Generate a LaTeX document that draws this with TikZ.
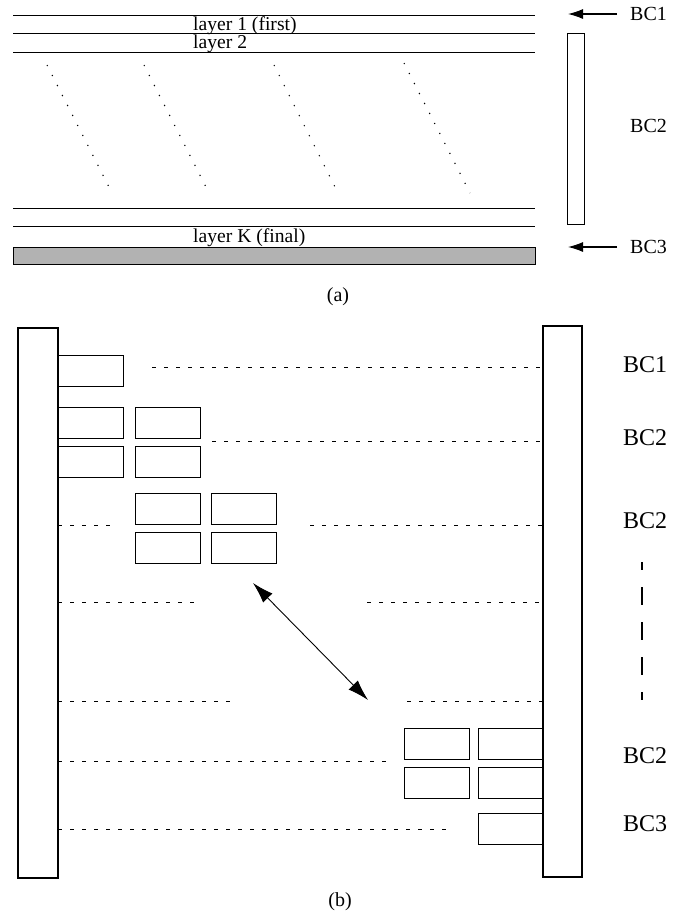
\documentclass[tikz,border=0pt]{standalone}
\usepackage{fontspec}
\setmainfont{Liberation Serif}
\usetikzlibrary{arrows.meta}
\begin{document}
\begin{tikzpicture}[x=1pt,y=-1pt,
  lay/.style={line width=1pt},
  slant/.style={line width=1.1pt, dash pattern=on 1.2pt off 10pt},
  dots/.style={line width=1pt, dash pattern=on 3.5pt off 8.5pt},
  sbox/.style={draw, line width=1pt, minimum width=65pt, minimum height=31pt, inner sep=0pt, anchor=north west},
  bar/.style={draw, line width=1.1pt},
  ltxt/.style={font=\fontsize{19.6}{20}\selectfont, anchor=west, inner sep=0pt},
  bca/.style={font=\fontsize{20}{20}\selectfont, anchor=west, inner sep=0pt},
  bcb/.style={font=\fontsize{24}{24}\selectfont, anchor=west, inner sep=0pt},
  captxt/.style={font=\fontsize{20}{20}\selectfont, inner sep=0pt},
  arrA/.style={line width=1.1pt, -{Latex[length=15pt,width=10pt]}},
  arrB/.style={line width=0.9pt, {Latex[length=21pt,width=13pt]}-{Latex[length=21pt,width=13pt]}}
]
\useasboundingbox (0,0) rectangle (673,914);

% ---------- (a) ----------
\draw[lay] (13,15) -- (535,15);
\draw[lay] (13,33) -- (535,33);
\draw[lay] (13,52) -- (535,52);
\draw[lay] (13,208) -- (535,208);
\draw[lay] (13,226) -- (535,226);
\node[ltxt] (l1) at (193,25.5) {layer 1 (first)};
\node[ltxt] (l2) at (193,44) {layer 2};
\node[ltxt] (lk) at (193,238) {layer K (final)};
\draw[lay, fill=black!30] (13,247) rectangle (535,264);

\draw[slant] (47,65) -- (112,193);
\draw[slant] (144,65) -- (209,193);
\draw[slant] (274,65) -- (338,193);
\draw[slant] (404,63) -- (470,193);

\draw[lay] (567,33) rectangle (584,224);

\node[bca] (abc1) at (630,14) {BC1};
\node[bca] (abc2) at (630,126) {BC2};
\node[bca] (abc3) at (630,247) {BC3};
\draw[arrA] ([xshift=-13pt]abc1.west) -- ([xshift=-62pt]abc1.west);
\draw[arrA] ([xshift=-13pt]abc3.west) -- ([xshift=-62pt]abc3.west);

\node[captxt] (capa) at (338,297) {(a)};

% ---------- (b) ----------
\draw[bar] (18,328) rectangle (58,878);
\draw[bar] (543,326) rectangle (582,877);

\node[sbox] (b1) at (58,355) {};
\node[sbox] (b2a) at (58,407) {};
\node[sbox] (b2b) at (135,407) {};
\node[sbox] (b2c) at (58,446) {};
\node[sbox] (b2d) at (135,446) {};
\node[sbox] (b3a) at (135,493) {};
\node[sbox] (b3b) at (211,493) {};
\node[sbox] (b3c) at (135,532) {};
\node[sbox] (b3d) at (211,532) {};
\node[sbox] (b4a) at (404,728) {};
\node[sbox] (b4b) at (478,728) {};
\node[sbox] (b4c) at (404,767) {};
\node[sbox] (b4d) at (478,767) {};
\node[sbox] (b5) at (478,813) {};

\draw[dots] (152,367) -- (543,367);
\draw[dots] (212,441) -- (543,441);
\draw[dots] (58,525) -- (117,525);
\draw[dots] (310,525) -- (543,525);
\draw[dots] (58,602) -- (195,602);
\draw[dots] (367,602) -- (543,602);
\draw[dots] (58,701) -- (233,701);
\draw[dots] (407,701) -- (543,701);
\draw[dots] (58,761) -- (390,761);
\draw[dots] (58,829) -- (448,829);

\coordinate (u) at (253,583);
\coordinate (v) at (368,700);
\draw[arrB] (u) -- (v);

\node[bcb] (bbc1) at (623,365) {BC1};
\node[bcb] (bbc2) at (623,438) {BC2};
\node[bcb] (bbc3) at (623,521) {BC2};
\node[bcb] (bbc4) at (623,756) {BC2};
\node[bcb] (bbc5) at (623,824) {BC3};
\draw[line width=1.1pt, dash pattern=on 18pt off 17pt, dash phase=10pt] (642,562) -- (642,700);

\node[captxt] (capb) at (340,902) {(b)};
\end{tikzpicture}
\end{document}
